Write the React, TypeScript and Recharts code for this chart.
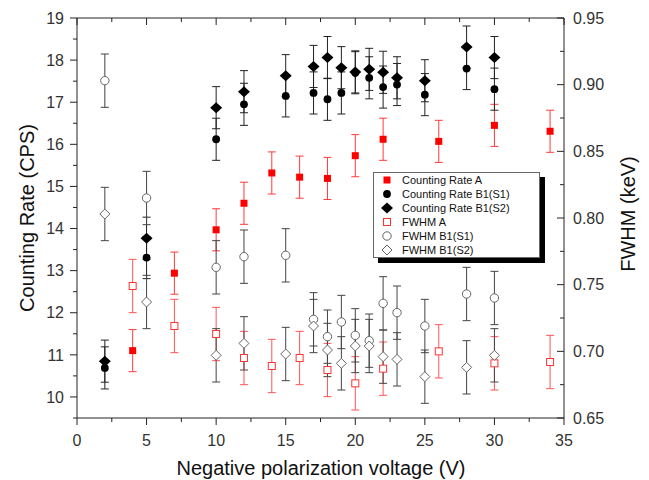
import React from 'react';
import { ScatterChart, Scatter, XAxis, YAxis, ErrorBar, Legend } from 'recharts';

// voltages (V)
const voltsA = [4, 7, 10, 12, 14, 16, 18, 20, 22, 26, 30, 34];
const voltsB = [2, 5, 10, 12, 15, 17, 18, 19, 20, 21, 22, 23, 25, 28, 30];

// counting rate (CPS), left axis
const rateA = [11.1, 12.94, 13.97, 14.6, 15.32, 15.22, 15.19, 15.73, 16.12, 16.07, 16.45, 16.31];
const rateS1 = [10.69, 13.31, 16.12, 16.95, 17.15, 17.22, 17.07, 17.22, 17.7, 17.58, 17.36, 17.42, 17.18, 17.8, 17.31];
const rateS2 = [10.85, 13.77, 16.87, 17.25, 17.63, 17.85, 18.06, 17.82, 17.72, 17.78, 17.71, 17.58, 17.51, 18.31, 18.06];

// FWHM (keV), right axis
const fwhmA = [0.749, 0.719, 0.713, 0.695, 0.689, 0.695, 0.686, 0.676, 0.687, 0.7, 0.691, 0.692];
const fwhmS1 = [0.903, 0.815, 0.763, 0.771, 0.772, 0.724, 0.711, 0.722, 0.712, 0.708, 0.736, 0.729, 0.719, 0.743, 0.74];
const fwhmS2 = [0.803, 0.737, 0.697, 0.706, 0.698, 0.719, 0.701, 0.691, 0.704, 0.704, 0.696, 0.694, 0.681, 0.688, 0.697];

const RATE_ERR = 0.5;
const FWHM_ERR = 0.02;

const xTicks = [0, 2.5, 5, 7.5, 10, 12.5, 15, 17.5, 20, 22.5, 25, 27.5, 30, 32.5, 35];
const leftTicks = [9.5, 10, 10.5, 11, 11.5, 12, 12.5, 13, 13.5, 14, 14.5, 15, 15.5, 16, 16.5, 17, 17.5, 18, 18.5, 19];
const rightTicks = [0.65, 0.675, 0.7, 0.725, 0.75, 0.775, 0.8, 0.825, 0.85, 0.875, 0.9, 0.925, 0.95];

const legendNames = [
  'Counting Rate A',
  'Counting Rate B1(S1)',
  'Counting Rate B1(S2)',
  'FWHM A',
  'FWHM B1(S1)',
  'FWHM B1(S2)',
];

const toPoints = (xs: number[], ys: number[], err: number) =>
  xs.map((x, i) => ({ x, y: ys[i], err }));

const FONT = '"Liberation Sans", Arial, sans-serif';
const AXIS = '#222';

type Kind = 'sq' | 'dot' | 'dia' | 'osq' | 'odot' | 'odia';

const Marker = ({ kind, cx, cy }: { kind: Kind; cx: number; cy: number }) => {
  switch (kind) {
    case 'sq':
      return <rect x={cx - 3.5} y={cy - 3.5} width={7} height={7} fill="#ff0000" />;
    case 'dot':
      return <circle cx={cx} cy={cy} r={3.9} fill="#000" />;
    case 'dia':
      return <polygon points={`${cx - 6},${cy} ${cx},${cy - 5.5} ${cx + 6},${cy} ${cx},${cy + 5.5}`} fill="#000" />;
    case 'osq':
      return <rect x={cx - 3.5} y={cy - 3.5} width={7} height={7} fill="#fff" stroke="#ff3333" />;
    case 'odot':
      return <circle cx={cx} cy={cy} r={4.2} fill="#fff" stroke="#666" />;
    default:
      return <polygon points={`${cx - 5},${cy} ${cx},${cy - 5} ${cx + 5},${cy} ${cx},${cy + 5}`} fill="#fff" stroke="#666" />;
  }
};

const legendKinds: Kind[] = ['sq', 'dot', 'dia', 'osq', 'odot', 'odia'];

type Side = 'left' | 'right' | 'bottom' | 'top';

const axisTick = (side: Side, step: number, digits = 0) => (props: any) => {
  const { x, y, payload } = props;
  const v = payload.value as number;
  const major = Math.abs(v / step - Math.round(v / step)) < 1e-6;
  const len = major ? 7 : 4;
  const txt = { fontFamily: FONT, fontSize: 16, fill: '#333' };
  if (side === 'left') {
    return (
      <g>
        <line x1={x - len} y1={y} x2={x} y2={y} stroke={AXIS} />
        {major && <text x={x - 13} y={y} dy="0.36em" textAnchor="end" {...txt}>{v.toFixed(digits)}</text>}
      </g>
    );
  }
  if (side === 'right') {
    return (
      <g>
        <line x1={x - len} y1={y} x2={x} y2={y} stroke={AXIS} />
        {major && <text x={x + 9} y={y} dy="0.36em" textAnchor="start" {...txt}>{v.toFixed(digits)}</text>}
      </g>
    );
  }
  if (side === 'bottom') {
    return (
      <g>
        <line x1={x} y1={y} x2={x} y2={y + len} stroke={AXIS} />
        {major && <text x={x} y={y + 28} textAnchor="middle" {...txt}>{v.toFixed(digits)}</text>}
      </g>
    );
  }
  return <line x1={x} y1={y} x2={x} y2={y + len} stroke={AXIS} />;
};

// props named px/py/rot so that Recharts' own label props don't override them
const AxisTitle = ({ px, py, rot, title }: { px: number; py: number; rot?: number; title: string; [k: string]: any }) => (
  <text
    x={px}
    y={py}
    textAnchor="middle"
    transform={rot ? `rotate(${rot} ${px} ${py})` : undefined}
    fontFamily={FONT}
    fontSize={20}
    fill="#111"
  >
    {title}
  </text>
);

const LegendBox = () => (
  <div
    style={{
      width: 167,
      height: 86,
      boxSizing: 'border-box',
      border: '1px solid #666',
      background: '#fff',
      boxShadow: '5px 5px 0 #000',
      fontFamily: FONT,
      fontSize: 11,
      color: '#111',
    }}
  >
    {legendNames.map((name, i) => (
      <div key={name} style={{ height: 14, display: 'flex', alignItems: 'center', lineHeight: '14px' }}>
        <svg width={28} height={14} style={{ flex: 'none' }}>
          <Marker kind={legendKinds[i]} cx={13} cy={7} />
        </svg>
        <span>{name}</span>
      </div>
    ))}
  </div>
);

export default function App() {
  const series = [
    { name: legendNames[0], data: toPoints(voltsA, rateA, RATE_ERR), axis: 'left', kind: 'sq' as Kind, bar: '#ff3b3b' },
    { name: legendNames[1], data: toPoints(voltsB, rateS1, RATE_ERR), axis: 'left', kind: 'dot' as Kind, bar: '#222' },
    { name: legendNames[2], data: toPoints(voltsB, rateS2, RATE_ERR), axis: 'left', kind: 'dia' as Kind, bar: '#222' },
    { name: legendNames[3], data: toPoints(voltsA, fwhmA, FWHM_ERR), axis: 'right', kind: 'osq' as Kind, bar: '#ff5555' },
    { name: legendNames[4], data: toPoints(voltsB, fwhmS1, FWHM_ERR), axis: 'right', kind: 'odot' as Kind, bar: '#444' },
    { name: legendNames[5], data: toPoints(voltsB, fwhmS2, FWHM_ERR), axis: 'right', kind: 'odia' as Kind, bar: '#444' },
  ];

  return (
    <div style={{ position: 'absolute', left: 0, top: 0 }}>
      <ScatterChart width={649} height={480} margin={{ top: 0, right: 0, bottom: 0, left: 0 }}>
        <XAxis
          type="number"
          dataKey="x"
          domain={[0, 35]}
          ticks={xTicks}
          interval={0}
          allowDataOverflow
          height={62}
          stroke={AXIS}
          tickLine={false}
          tickSize={0}
          tickMargin={0}
          tick={axisTick('bottom', 5)}
          label={<AxisTitle px={321} py={475} title="Negative polarization voltage (V)" />}
        />
        <XAxis
          xAxisId="top"
          orientation="top"
          type="number"
          dataKey="x"
          domain={[0, 35]}
          ticks={xTicks}
          interval={0}
          allowDataOverflow
          height={18}
          stroke={AXIS}
          tickLine={false}
          tickSize={0}
          tickMargin={0}
          tick={axisTick('top', 5)}
        />
        <YAxis
          yAxisId="left"
          type="number"
          dataKey="y"
          domain={[9.5, 19]}
          ticks={leftTicks}
          interval={0}
          allowDataOverflow
          width={77}
          stroke={AXIS}
          tickLine={false}
          tickSize={0}
          tickMargin={0}
          tick={axisTick('left', 1)}
          label={<AxisTitle px={34} py={218} rot={-90} title="Counting Rate (CPS)" />}
        />
        <YAxis
          yAxisId="right"
          orientation="right"
          type="number"
          dataKey="y"
          domain={[0.65, 0.95]}
          ticks={rightTicks}
          interval={0}
          allowDataOverflow
          width={85}
          stroke={AXIS}
          tickLine={false}
          tickSize={0}
          tickMargin={0}
          tick={axisTick('right', 0.05, 2)}
          label={<AxisTitle px={635} py={214} rot={-90} title="FWHM (keV)" />}
        />
        <Legend
          layout="horizontal"
          verticalAlign="middle"
          align="center"
          wrapperStyle={{ left: 373, top: 172, width: 'auto' }}
          content={() => <LegendBox />}
        />
        {series.map((s) => (
          <Scatter
            key={s.name}
            name={s.name}
            data={s.data}
            yAxisId={s.axis}
            isAnimationActive={false}
            shape={(p: any) => <Marker kind={s.kind} cx={p.cx} cy={p.cy} />}
          >
            <ErrorBar dataKey="err" direction="y" width={4} stroke={s.bar} strokeWidth={1} isAnimationActive={false} />
          </Scatter>
        ))}
      </ScatterChart>
    </div>
  );
}
